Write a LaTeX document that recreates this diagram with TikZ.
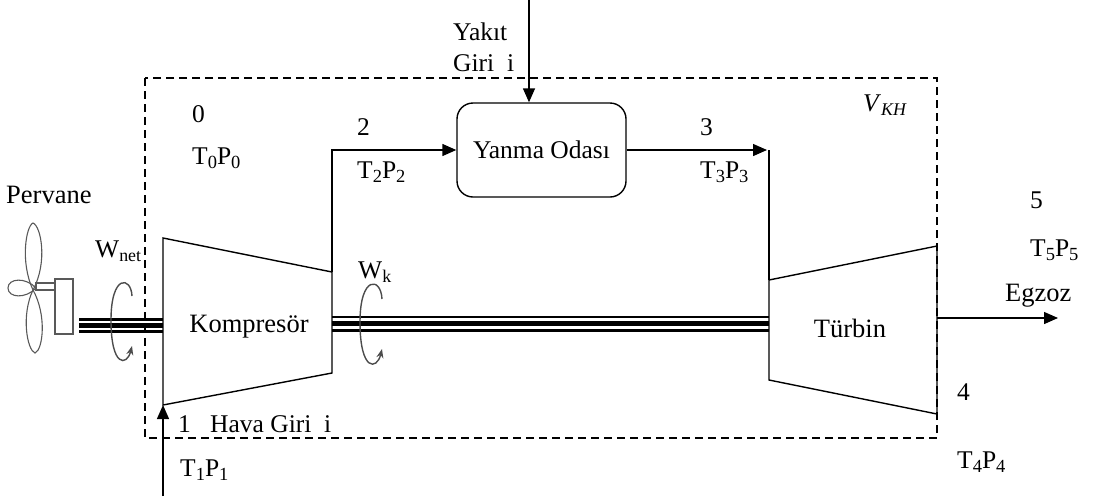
\documentclass[tikz,border=0pt]{standalone}
\usepackage{fontspec}
\setmainfont{Liberation Serif}
\usetikzlibrary{arrows.meta}
% lowered index in the serif text face
\newcommand\lowidx[1]{\raisebox{-0.3ex}{\fontsize{18.5}{20}\selectfont #1}}

\begin{document}
\begin{tikzpicture}[x=1pt,y=-1pt,
  line/.style={line width=1.4pt},
  flow/.style={line width=1.4pt,-{Triangle[length=14pt,width=12pt]}},
  lbl/.style={font=\fontsize{25.5}{29}\selectfont,inner sep=0pt,anchor=west},
  big/.style={font=\fontsize{26.5}{30}\selectfont},
  boundary/.style={line width=1.4pt,dash pattern=on 8pt off 5pt},
  chamber/.style={draw,line width=1.4pt,rounded corners=16pt,
    minimum width=169pt,minimum height=94pt,inner sep=0pt,
    font=\fontsize{25.5}{29}\selectfont},
  prop/.style={draw=black!65,line width=1.1pt},
  spin/.style={draw=black!70,line width=1.4pt,-{Stealth[length=9pt,width=7pt]}},
  thinshaft/.style={line width=2.2pt},
  thickshaft/.style={line width=5pt}]

\useasboundingbox (0,0) rectangle (1094,496);

% control volume
\draw[boundary] (145,78) rectangle (937,438);

% compressor and turbine outlines
\coordinate (k1) at (163,238); \coordinate (k2) at (332,272);
\coordinate (k3) at (332,373); \coordinate (k4) at (163,405);
\coordinate (t1) at (769,280); \coordinate (t2) at (937,246);
\coordinate (t3) at (937,414); \coordinate (t4) at (769,380);
\draw[line] (k1) -- (k2) -- (k3) -- (k4) -- cycle;
\draw[line] (t1) -- (t2) -- (t3) -- (t4) -- cycle;
\node[lbl,big,anchor=center] (komp) at (249,327) {Kompresör};
\node[lbl,big,anchor=center] (turb) at (850,328) {Türbin};

% combustion chamber
\node[chamber] (yanma) at (541.5,150) {Yanma Odası};

% flow path
\draw[flow] (k2) |- (yanma.west);
\coordinate (t3in) at (767,150);
\coordinate (t3top) at (769,150);
\draw[flow] (yanma.east) -- (t3in);
\draw[line] (t3top) -- (t1);
\coordinate (fuel) at (529,0);
\draw[flow] (fuel) -- (fuel |- yanma.north);
\coordinate (airin) at (163,496);
\draw[flow] (airin) -- (k4);
\coordinate (exh) at (1058,318);
\draw[flow] (937,318) -- (exh);

% shafts
\coordinate (pL) at (79,325.5); \coordinate (pR) at (163,325.5);
\draw[thinshaft] ([yshift=-6pt]pL) -- ([yshift=-6pt]pR);
\draw[thickshaft] (pL) -- (pR);
\draw[thinshaft] ([yshift=6pt]pL) -- ([yshift=6pt]pR);
\coordinate (sL) at (332,323.7); \coordinate (sR) at (769,323.7);
\draw[thinshaft] ([yshift=-6.7pt]sL) -- ([yshift=-6.7pt]sR);
\draw[thickshaft] (sL) -- (sR);
\draw[thinshaft] ([yshift=6.8pt]sL) -- ([yshift=6.8pt]sR);

% propeller
\draw[prop] (33,290) .. controls (20,262) and (26,226) .. (33,223)
            .. controls (41,226) and (48,262) .. (33,290);
\draw[prop] (33,290) .. controls (21,315) and (27,350) .. (35,353)
            .. controls (43,350) and (47,315) .. (33,290);
\draw[prop] (36,288) .. controls (26,277) and (8,278) .. (8,288)
            .. controls (8,298) and (26,299) .. (36,288);
\draw[prop] (36,283) rectangle (55,290);
\draw[prop,fill=white] (55,279) rectangle (73,334);

% rotation symbols
\draw[spin] (132,296) .. controls (131,276) and (111,274) .. (111,320)
            .. controls (111,368) and (127,366) .. (132,346);
\draw[spin] (382,299) .. controls (381,277) and (360,275) .. (360,322)
            .. controls (360,372) and (377,370) .. (382,349);

% labels
\node[lbl] (fuel1) at (453,32) {Yakıt};
\node[lbl] (fuel2) at (453,63) {Giri\enspace i};
\node[lbl] (s0) at (192,114) {0};
\node[lbl] (s0tp) at (192,158) {T\lowidx{0}P\lowidx{0}};
\node[lbl] (s2) at (357,127) {2};
\node[lbl] (s2tp) at (357,172) {T\lowidx{2}P\lowidx{2}};
\node[lbl] (s3) at (700,127) {3};
\node[lbl] (s3tp) at (700,172) {T\lowidx{3}P\lowidx{3}};
\node[lbl] (vkh) at (863,105) {\textit{V}\textsubscript{\textit{KH}}};
\node[lbl,big] (perv) at (6,195) {Pervane};
\node[lbl] (wnet) at (95,251) {W\textsubscript{net}};
\node[lbl] (wk) at (358,272) {W\textsubscript{k}};
\node[lbl] (s5) at (1030,200) {5};
\node[lbl] (s5tp) at (1030,250) {T\lowidx{5}P\lowidx{5}};
\node[lbl,big] (egz) at (1005,296) {Egzoz};
\node[lbl] (s4) at (957,392) {4};
\node[lbl] (s4tp) at (957,462) {T\lowidx{4}P\lowidx{4}};
\node[lbl] (s1) at (178,424) {1};
\node[lbl] (hava) at (210,424) {Hava Giri\enspace i};
\node[lbl] (s1tp) at (180,470) {T\lowidx{1}P\lowidx{1}};
\end{tikzpicture}
\end{document}
